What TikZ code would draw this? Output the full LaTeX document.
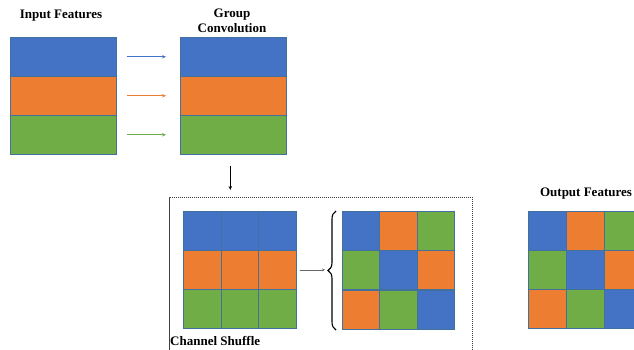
\documentclass[tikz,border=0pt]{standalone}
\usepackage{fontspec}
\setmainfont{Liberation Serif}
\usetikzlibrary{decorations.pathreplacing,arrows.meta}
\definecolor{cblue}{HTML}{4472C4}
\definecolor{corange}{HTML}{ED7D31}
\definecolor{cgreen}{HTML}{70AD47}
\definecolor{cedge}{HTML}{41719C}
\tikzset{
  band/.style={draw=cedge, line width=0.6pt, minimum width=106pt, minimum height=39pt, inner sep=0pt, anchor=north west},
  cell/.style={draw=cedge, line width=0.6pt, minimum width=37.7pt, minimum height=39pt, inner sep=0pt, anchor=north west},
  title/.style={font=\bfseries\fontsize{13}{15}\selectfont, align=center, inner sep=0pt},
  flow/.style={-{Stealth[length=4pt,width=3.5pt]}, line width=0.9pt},
}
\begin{document}
\begin{tikzpicture}[x=1pt,y=-1pt]
\useasboundingbox (0,0) rectangle (634,349);
\clip (0,0) rectangle (634,349);

% titles
\node[title] (tin) at (61,16) {Input Features};
\node[title] (tgc) at (232,21) {Group\\Convolution};
\node[title] (tout) at (586,194) {Output Features};
\node[title, anchor=west] (tcs) at (170,341) {Channel Shuffle};

% input feature bands and grouped convolution bands
\foreach \c [count=\i] in {cblue,corange,cgreen} {
  \node[band, fill=\c] (in\i) at (10,{37+(\i-1)*39}) {};
  \node[band, fill=\c] (gc\i) at (180,{37+(\i-1)*39}) {};
  \draw[flow, draw=\c, shorten <=10pt, shorten >=14pt] (in\i.east) -- (gc\i.west);
}

% channel shuffle frame
\node[draw=black!75, dash pattern=on 1.2pt off 0.8pt, line width=0.6pt, minimum width=303pt, minimum height=170pt, inner sep=0pt, anchor=north west] (frame) at (169,197) {};
\draw[flow, line width=1pt, shorten <=11pt, shorten >=7pt] ([xshift=-3pt]gc3.south) -- ([xshift=-3pt]gc3.south |- frame.north);

% grouped channels before shuffling
\foreach \c [count=\r] in {cblue,corange,cgreen} {
  \foreach \k in {1,2,3} {
    \node[cell, fill=\c] (a\r\k) at ({183+(\k-1)*37.7},{211+(\r-1)*39}) {};
  }
}

% shuffled channels and output features
\foreach \r/\ca/\cb/\cc in {1/cblue/corange/cgreen, 2/cgreen/cblue/corange, 3/corange/cgreen/cblue} {
  \foreach \k/\c in {1/\ca,2/\cb,3/\cc} {
    \node[cell, fill=\c, minimum width=37.3pt] (b\r\k) at ({342+(\k-1)*37.3},{211+(\r-1)*39.3}) {};
    \node[cell, fill=\c] (o\r\k) at ({528+(\k-1)*38},{211+(\r-1)*39}) {};
  }
}

% shuffle arrow and brace
\coordinate (bt) at (336,211);
\coordinate (bb) at (336,330);
\draw[decorate, decoration={brace, amplitude=8pt, mirror}, line width=1.1pt] (bt) -- (bb);
\draw[-{Stealth[length=3pt,width=3pt]}, draw=black!60, line width=0.5pt, shorten <=3pt, shorten >=11pt] (a23.east) -- (a23.east -| bt);
\end{tikzpicture}
\end{document}
